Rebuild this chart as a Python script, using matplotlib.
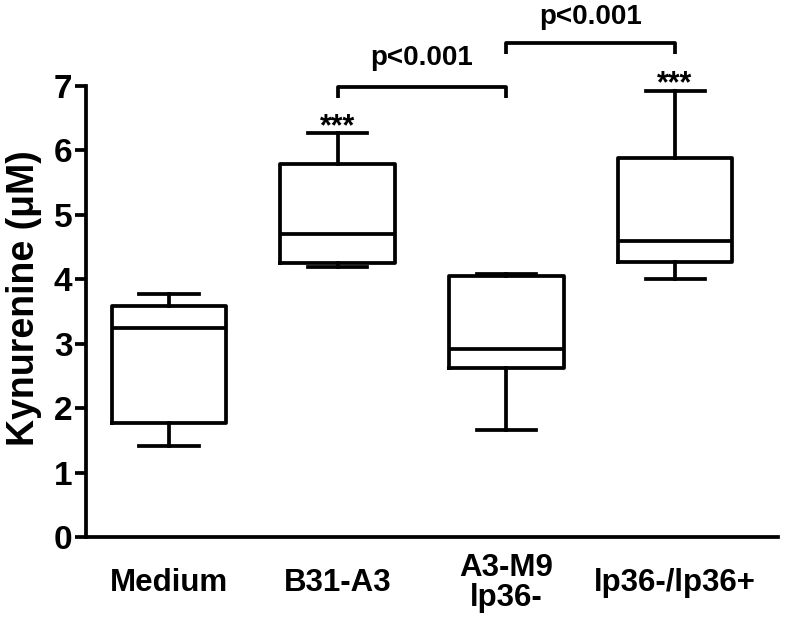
import matplotlib
matplotlib.use("Agg")
import matplotlib.pyplot as plt

plt.rcParams['font.family'] = ['Liberation Sans', 'DejaVu Sans']
plt.rcParams['font.weight'] = 'bold'

categories = ["Medium", "B31-A3", "A3-M9\nlp36-", "lp36-/lp36+"]
whisker_low = [1.41, 4.19, 1.66, 4.01]
q1 = [1.77, 4.25, 2.62, 4.27]
median = [3.24, 4.70, 2.92, 4.60]
q3 = [3.59, 5.79, 4.05, 5.89]
whisker_high = [3.77, 6.27, 4.09, 6.93]
stars = ["", "***", "", "***"]
comparisons = [(2, 3, "p<0.001"), (3, 4, "p<0.001")]
yticks = [0, 1, 2, 3, 4, 5, 6, 7]

fig = plt.figure(figsize=(7.85, 6.27), dpi=100)
ax = fig.add_axes([0.110, 0.1435, 0.881, 0.7193])

stats = []
for i in range(len(categories)):
    stats.append(dict(med=median[i], q1=q1[i], q3=q3[i],
                      whislo=whisker_low[i], whishi=whisker_high[i],
                      fliers=[], label=categories[i]))

lw = 2.7
ax.bxp(stats, positions=range(1, len(categories) + 1), widths=0.68,
       showfliers=False, patch_artist=False,
       boxprops=dict(color='black', linewidth=lw),
       medianprops=dict(color='black', linewidth=lw),
       whiskerprops=dict(color='black', linewidth=lw),
       capprops=dict(color='black', linewidth=lw),
       capwidths=0.35)

ax.set_xlim(0.51, 4.61)
ax.set_ylim(0, 7)
ax.set_yticks(yticks)
ax.set_yticklabels([str(t) for t in yticks], fontsize=24, fontweight='bold')
ax.set_xticks(range(1, len(categories) + 1))
ax.set_xticklabels(categories, fontsize=22.5, fontweight='bold', va='center',
                   linespacing=1.0)
ax.tick_params(axis='x', length=0, pad=33)
ax.tick_params(axis='y', length=8, width=2.7, pad=2)

for s in ['top', 'right']:
    ax.spines[s].set_visible(False)
for s in ['left', 'bottom']:
    ax.spines[s].set_linewidth(2.7)

ax.set_ylabel("Kynurenine (μM)", fontsize=27, fontweight='bold')
ax.yaxis.set_label_coords(-0.064, 0.53)

# stars above whiskers
for i, s in enumerate(stars):
    if s:
        ax.text(i + 1, whisker_high[i] - 0.03, s, ha='center', va='baseline',
                fontsize=22, fontweight='bold', clip_on=False)

# comparison brackets
levels = [6.99, 7.67]
text_y = [7.43, 8.07]
for (a, b, txt), yb, ty in zip(comparisons, levels, text_y):
    ax.plot([a, a, b, b], [yb - 0.17, yb, yb, yb - 0.17], color='black',
            linewidth=lw, clip_on=False, solid_joinstyle='round',
            solid_capstyle='butt')
    ax.text((a + b) / 2, ty, txt, ha='center', va='center',
            fontsize=20, fontweight='bold', clip_on=False)

fig.savefig("out.png", dpi=100)
